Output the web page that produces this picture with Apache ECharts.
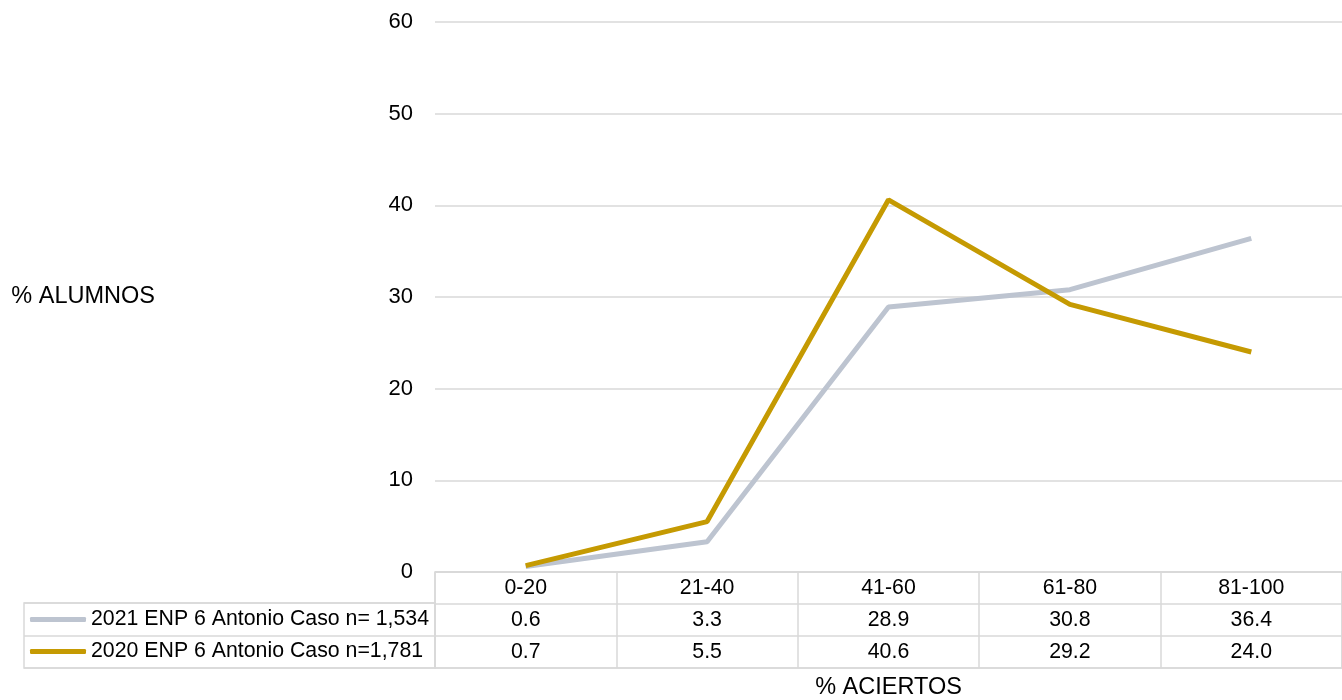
<!DOCTYPE html>
<html>
<head>
<meta charset="utf-8">
<script src="https://cdn.jsdelivr.net/npm/echarts@6/dist/echarts.min.js"></script>
<style>
html,body{margin:0;padding:0;background:#fff;}
#chart{width:1342px;height:700px;}
</style>
</head>
<body>
<div id="chart"></div>
<script>
const categories = ['0-20', '21-40', '41-60', '61-80', '81-100'];
const seriesNames = ['2021 ENP 6 Antonio Caso n= 1,534', '2020 ENP 6 Antonio Caso n=1,781'];
const values2021 = [0.6, 3.3, 28.9, 30.8, 36.4];
const values2020 = [0.7, 5.5, 40.6, 29.2, 24.0];
const yTicks = [0, 10, 20, 30, 40, 50, 60];
const yAxisTitle = '% ALUMNOS';
const xAxisTitle = '% ACIERTOS';

const colors = ['#BDC4D0', '#C59A02'];
const FONT = 'Liberation Sans, Arial, sans-serif';
const FS = 21.3;
const TFS = 22;
const NFS = 23.5;
const TXT = '#000';
const gridColor = '#D9D9D9';

// table cells built from the arrays
const tableCells = [];
categories.forEach((c, i) => {
  tableCells.push([i, 0, c]);
  tableCells.push([i, 1, values2021[i].toFixed(1)]);
  tableCells.push([i, 2, values2020[i].toFixed(1)]);
});

const chart = echarts.init(document.getElementById('chart'), null, {renderer: 'canvas'});
chart.setOption({
  animation: false,
  backgroundColor: '#fff',
  textStyle: {fontFamily: FONT},
  grid: [
    {left: 435, right: 0, top: 22, height: 550, outerBoundsMode: 'none', containLabel: false},
    {left: 435, right: 0, top: 572, height: 96, show: true, borderColor: gridColor, borderWidth: 1.5,
     outerBoundsMode: 'none', containLabel: false},
    {left: 24, width: 411, top: 603, height: 65, show: true, borderColor: gridColor, borderWidth: 1.5,
     outerBoundsMode: 'none', containLabel: false}
  ],
  legend: [
    {data: [seriesNames[0]], left: 30, top: 609, padding: 0, icon: 'roundRect', itemWidth: 56, itemHeight: 5,
     textStyle: {fontSize: FS, color: TXT, fontFamily: FONT}, selectedMode: false},
    {data: [seriesNames[1]], left: 30, top: 641, padding: 0, icon: 'roundRect', itemWidth: 56, itemHeight: 5,
     textStyle: {fontSize: FS, color: TXT, fontFamily: FONT}, selectedMode: false}
  ],
  xAxis: [
    {gridIndex: 0, type: 'category', data: categories, boundaryGap: true,
     axisLine: {show: false}, axisTick: {show: false}, axisLabel: {show: false}, splitLine: {show: false}},
    {gridIndex: 1, type: 'category', data: categories, boundaryGap: true,
     axisLine: {show: false}, axisTick: {show: false}, axisLabel: {show: false},
     splitLine: {show: true, lineStyle: {color: gridColor, width: 1.5}},
     name: xAxisTitle, nameLocation: 'middle', nameGap: 8,
     nameTextStyle: {fontSize: NFS, color: TXT, fontFamily: FONT, verticalAlign: 'top'}},
    {gridIndex: 2, type: 'value', min: 0, max: 1, show: false}
  ],
  yAxis: [
    {gridIndex: 0, type: 'value', min: 0, max: 60, interval: 10,
     axisLine: {show: false}, axisTick: {show: false},
     axisLabel: {fontSize: TFS, color: TXT, margin: 22, fontFamily: FONT},
     splitLine: {show: true, lineStyle: {color: gridColor, width: 1.5}},
     name: yAxisTitle, nameLocation: 'middle', nameRotate: 0, nameGap: 280,
     nameTextStyle: {fontSize: NFS, color: TXT, fontFamily: FONT, align: 'right'}},
    {gridIndex: 1, type: 'category', data: ['h', 'a', 'b'], inverse: true, boundaryGap: true,
     axisLine: {show: false}, axisTick: {show: false}, axisLabel: {show: false},
     splitLine: {show: true, lineStyle: {color: gridColor, width: 1.5}}},
    {gridIndex: 2, type: 'category', data: ['a', 'b'], inverse: true, boundaryGap: true,
     axisLine: {show: false}, axisTick: {show: false}, axisLabel: {show: false},
     splitLine: {show: true, lineStyle: {color: gridColor, width: 1.5}}}
  ],
  series: [
    {name: seriesNames[0], type: 'line', xAxisIndex: 0, yAxisIndex: 0, data: values2021,
     symbol: 'none', lineStyle: {color: colors[0], width: 5}, itemStyle: {color: colors[0]}, z: 3},
    {name: seriesNames[1], type: 'line', xAxisIndex: 0, yAxisIndex: 0, data: values2020,
     symbol: 'none', lineStyle: {color: colors[1], width: 5}, itemStyle: {color: colors[1]}, z: 4},
    {type: 'scatter', xAxisIndex: 1, yAxisIndex: 1, data: tableCells, symbolSize: 1,
     itemStyle: {color: 'rgba(0,0,0,0)', opacity: 1}, silent: true,
     label: {show: true, position: 'inside', formatter: p => p.value[2],
             fontSize: FS, color: TXT, fontFamily: FONT}}
  ]
});
</script>
</body>
</html>
